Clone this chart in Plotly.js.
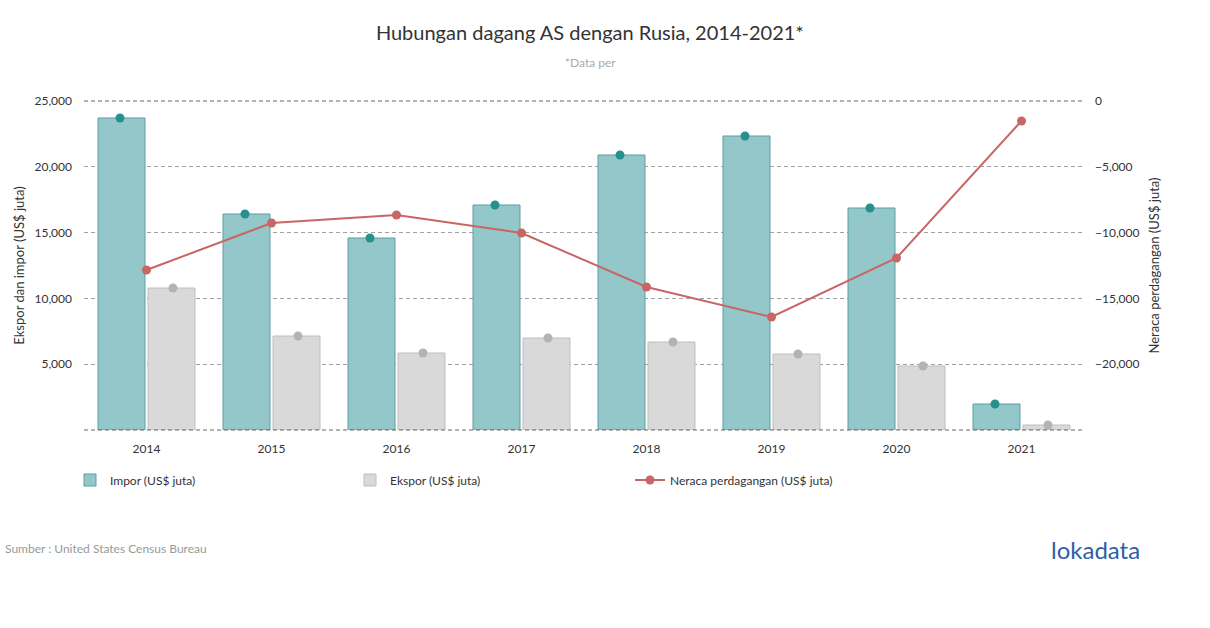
<!DOCTYPE html>
<html>
<head>
<meta charset="utf-8">
<script src="https://cdn.plot.ly/plotly-3.0.1.min.js"></script>
<style>html,body{margin:0;padding:0;background:#fff;}#chart{width:1210px;height:628px;}</style>
</head>
<body>
<div id="chart"></div>
<script>
// ---- data ----
const years = [2014, 2015, 2016, 2017, 2018, 2019, 2020, 2021];
const impor = [23710, 16414, 14590, 17098, 20897, 22341, 16870, 1976];
const ekspor = [10790, 7143, 5851, 6991, 6687, 5775, 4863, 380];
const neraca = [-12842, -9271, -8663, -10030, -14134, -16413, -11930, -1520];
const leftTicks = [5000, 10000, 15000, 20000, 25000];
const rightTicks = [0, -5000, -10000, -15000, -20000];

// ---- style ----
const FONT = 'Lato, "Open Sans", sans-serif';
const GROUP_OFFSET = 0.212; // half-distance between grouped bar centers (in category units)
const tealFill = '#93c7ca', tealLine = '#5b9fa3', tealDot = '#26908f';
const greyFill = '#d9d9d9', greyLine = '#bfbfbf', greyDot = '#b3b3b3';
const red = '#c86565';

const traces = [
  {type: 'bar', name: 'Impor (US$ juta)', x: years, y: impor,
   marker: {color: tealFill, line: {color: tealLine, width: 1}}, hoverinfo: 'y'},
  {type: 'bar', name: 'Ekspor (US$ juta)', x: years, y: ekspor,
   marker: {color: greyFill, line: {color: greyLine, width: 1}}, hoverinfo: 'y'},
  {type: 'scatter', mode: 'markers', showlegend: false, x: years.map(v => v - GROUP_OFFSET), y: impor,
   marker: {color: tealDot, size: 9}, hoverinfo: 'skip'},
  {type: 'scatter', mode: 'markers', showlegend: false, x: years.map(v => v + GROUP_OFFSET), y: ekspor,
   marker: {color: greyDot, size: 9}, hoverinfo: 'skip'},
  {type: 'scatter', mode: 'lines+markers', name: 'Neraca perdagangan (US$ juta)', x: years, y: neraca,
   yaxis: 'y2', line: {color: red, width: 2}, marker: {color: red, size: 9}}
];

const layout = {
  width: 1210, height: 628,
  margin: {l: 84, r: 126, t: 101, b: 198, pad: 0},
  paper_bgcolor: '#fff', plot_bgcolor: '#fff',
  font: {family: FONT, size: 12, color: '#333'},
  barmode: 'group', bargap: 0.2, bargroupgap: 0.06,
  title: {text: 'Hubungan dagang AS dengan Rusia, 2014-2021*', font: {family: FONT, size: 20, color: '#333'},
          x: 0.4875, xanchor: 'center', xref: 'container', y: 0.947, yanchor: 'middle', yref: 'container'},
  xaxis: {type: 'linear', range: [2013.5, 2021.5], tickvals: years, ticktext: years.map(String),
          showgrid: false, zeroline: false, showline: false, ticks: '', ticklabelstandoff: 10,
          tickfont: {family: FONT, size: 12, color: '#333'}},
  yaxis: {range: [0, 25000], tickvals: leftTicks, tickformat: ',d', showgrid: true,
          gridcolor: '#a0a0a0', griddash: '4px,3px', gridwidth: 1, zeroline: false, showline: false, ticks: '',
          ticklabelstandoff: 11, tickfont: {family: FONT, size: 12, color: '#333'},
          title: {text: 'Ekspor dan impor (US$ juta)', font: {family: FONT, size: 13, color: '#333'}, standoff: 6}},
  yaxis2: {range: [-25000, 0], overlaying: 'y', side: 'right', tickvals: rightTicks, tickformat: ',d',
           showgrid: false, zeroline: false, showline: false, ticks: '', ticklabelstandoff: 10,
           tickfont: {family: FONT, size: 12, color: '#333'},
           title: {text: 'Neraca perdagangan (US$ juta)', font: {family: FONT, size: 13, color: '#333'}, standoff: 11}},
  legend: {orientation: 'h', x: -0.014, xanchor: 'left', y: -0.152, yanchor: 'middle',
           entrywidth: 235, entrywidthmode: 'pixels', font: {family: FONT, size: 12, color: '#333'},
           traceorder: 'normal'},
  shapes: [
    {type: 'line', xref: 'paper', yref: 'paper', x0: 0, x1: 1, y0: 1, y1: 1, line: {color: '#666', width: 1, dash: '4px,3px'}},
    {type: 'line', xref: 'paper', yref: 'paper', x0: 0, x1: 1, y0: 0, y1: 0, line: {color: '#666', width: 1, dash: '4px,3px'}}
  ],
  annotations: [
    {text: '*Data per', xref: 'paper', yref: 'paper', x: 0.506, y: 1 + 39/329, xanchor: 'center', yanchor: 'middle',
     showarrow: false, font: {family: FONT, size: 12, color: '#aaa'}},
    {text: 'Sumber : United States Census Bureau', xref: 'paper', yref: 'paper', x: -81/1000, y: -118/329,
     xanchor: 'left', yanchor: 'middle', showarrow: false, font: {family: FONT, size: 12, color: '#999'}},
    {text: 'lokadata', xref: 'paper', yref: 'paper', x: 1058/1000, y: -119/329,
     xanchor: 'right', yanchor: 'middle', showarrow: false, font: {family: FONT, size: 24, color: '#2d5ea8'}}
  ]
};

Plotly.newPlot('chart', traces, layout, {displayModeBar: false, staticPlot: true});
</script>
</body>
</html>
